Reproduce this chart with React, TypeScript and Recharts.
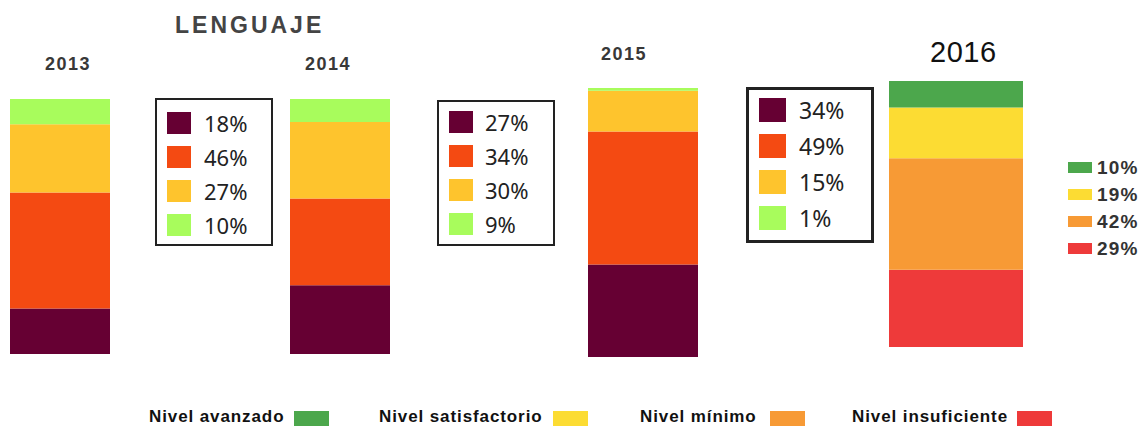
import React from 'react';
import { BarChart, Bar, XAxis, YAxis } from 'recharts';

const years = ['2013', '2014', '2015', '2016'];
const insuficiente = [18, 27, 34, 29];
const minimo = [46, 34, 49, 42];
const satisfactorio = [27, 30, 15, 19];
const avanzado = [10, 9, 1, 10];

const levelNames = ['Nivel avanzado', 'Nivel satisfactorio', 'Nivel mínimo', 'Nivel insuficiente'];

// bottom -> top: insuficiente, minimo, satisfactorio, avanzado
const oldColors = ['#660033', '#f44a12', '#fec42d', '#a8fc5c'];
const newColors = ['#ee3a3a', '#f79a35', '#fcdc33', '#4ca74c'];

const bars = [
  { left: 10, top: 99, width: 100, height: 255, colors: oldColors },
  { left: 290, top: 99, width: 100, height: 255, colors: oldColors },
  { left: 588, top: 88, width: 110, height: 269, colors: oldColors },
  { left: 889, top: 81, width: 134, height: 266, colors: newColors },
];

const yearLabels = [
  { left: 45, top: 54, size: 18, weight: 700, color: '#383838', ls: 1.5 },
  { left: 305, top: 54, size: 18, weight: 700, color: '#383838', ls: 1.5 },
  { left: 601, top: 44, size: 18, weight: 700, color: '#383838', ls: 1.5 },
  { left: 930, top: 36, size: 29, weight: 400, color: '#111', ls: 0.5 },
];

const boxes = [
  { left: 155, top: 98, width: 118, height: 148, border: 2, sx: 12, sy: 14, sw: 24, sh: 22, step: 34, tx: 49, font: 22 },
  { left: 437, top: 100, width: 118, height: 146, border: 2, sx: 12, sy: 11, sw: 24, sh: 22, step: 34, tx: 48, font: 22 },
  { left: 746, top: 87, width: 128, height: 156, border: 3, sx: 13, sy: 11, sw: 27, sh: 24, step: 36, tx: 53, font: 23 },
];

const YearBar = ({ i }: { i: number }) => {
  const b = bars[i];
  const row = {
    year: years[i],
    insuficiente: insuficiente[i],
    minimo: minimo[i],
    satisfactorio: satisfactorio[i],
    avanzado: avanzado[i],
  };
  const total = insuficiente[i] + minimo[i] + satisfactorio[i] + avanzado[i];
  const keys = ['insuficiente', 'minimo', 'satisfactorio', 'avanzado'];
  return (
    <div style={{ position: 'absolute', left: b.left, top: b.top }}>
      <BarChart
        width={b.width}
        height={b.height}
        data={[row]}
        margin={{ top: 0, right: 0, bottom: 0, left: 0 }}
        barCategoryGap={0}
      >
        <XAxis dataKey="year" hide />
        <YAxis type="number" domain={[0, total]} hide />
        {keys.map((k, j) => (
          <Bar key={k} dataKey={k} stackId="a" fill={b.colors[j]} isAnimationActive={false} />
        ))}
      </BarChart>
    </div>
  );
};

const PctBox = ({ i }: { i: number }) => {
  const bx = boxes[i];
  const vals = [insuficiente[i], minimo[i], satisfactorio[i], avanzado[i]];
  return (
    <div
      style={{
        position: 'absolute',
        left: bx.left,
        top: bx.top,
        width: bx.width,
        height: bx.height,
        boxSizing: 'border-box',
        border: `${bx.border}px solid #222`,
        background: '#fff',
      }}
    >
      {vals.map((v, j) => (
        <React.Fragment key={j}>
          <div
            style={{
              position: 'absolute',
              left: bx.sx - bx.border,
              top: bx.sy - bx.border + j * bx.step,
              width: bx.sw,
              height: bx.sh,
              background: oldColors[j],
            }}
          />
          <div
            style={{
              position: 'absolute',
              left: bx.tx - bx.border,
              top: bx.sy - bx.border + j * bx.step + bx.sh / 2 - bx.font * 0.7,
              fontSize: bx.font,
              lineHeight: `${bx.font * 1.4}px`,
              fontFamily: '"Noto Sans", sans-serif',
              color: '#222',
            }}
          >
            {v}%
          </div>
        </React.Fragment>
      ))}
    </div>
  );
};

const App = () => {
  const legend2016 = [avanzado[3], satisfactorio[3], minimo[3], insuficiente[3]];
  const legendColors = [newColors[3], newColors[2], newColors[1], newColors[0]];
  const bottomX = [149, 379, 640, 852];
  const swatchX = [294, 553, 770, 1017];
  return (
    <div
      style={{
        position: 'absolute',
        left: 0,
        top: 0,
        width: 1143,
        height: 427,
        background: '#fff',
        fontFamily: '"Liberation Sans", Arial, sans-serif',
        overflow: 'hidden',
      }}
    >
      <div
        style={{
          position: 'absolute',
          left: 175,
          top: 12,
          fontSize: 23,
          fontWeight: 700,
          letterSpacing: 3,
          color: '#444',
        }}
      >
        LENGUAJE
      </div>
      {yearLabels.map((y, i) => (
        <div
          key={years[i]}
          style={{
            position: 'absolute',
            left: y.left,
            top: y.top,
            fontSize: y.size,
            fontWeight: y.weight,
            letterSpacing: y.ls,
            color: y.color,
          }}
        >
          {years[i]}
        </div>
      ))}
      {years.map((_, i) => (
        <YearBar key={i} i={i} />
      ))}
      {boxes.map((_, i) => (
        <PctBox key={i} i={i} />
      ))}
      {legend2016.map((v, j) => (
        <React.Fragment key={j}>
          <div
            style={{
              position: 'absolute',
              left: 1068,
              top: 162 + j * 27,
              width: 24,
              height: 11,
              background: legendColors[j],
            }}
          />
          <div
            style={{
              position: 'absolute',
              left: 1097,
              top: 157 + j * 27,
              fontSize: 19,
              fontWeight: 700,
              letterSpacing: 1.2,
              color: '#333',
            }}
          >
            {v}%
          </div>
        </React.Fragment>
      ))}
      {levelNames.map((n, j) => (
        <React.Fragment key={n}>
          <div
            style={{
              position: 'absolute',
              left: bottomX[j],
              top: 408,
              fontSize: 17,
              lineHeight: '17px',
              fontWeight: 700,
              letterSpacing: 0.9,
              color: '#111',
              whiteSpace: 'nowrap',
            }}
          >
            {n}
          </div>
          <div
            style={{
              position: 'absolute',
              left: swatchX[j],
              top: 411,
              width: 35,
              height: 15,
              background: legendColors[j],
            }}
          />
        </React.Fragment>
      ))}
    </div>
  );
};

export default App;
